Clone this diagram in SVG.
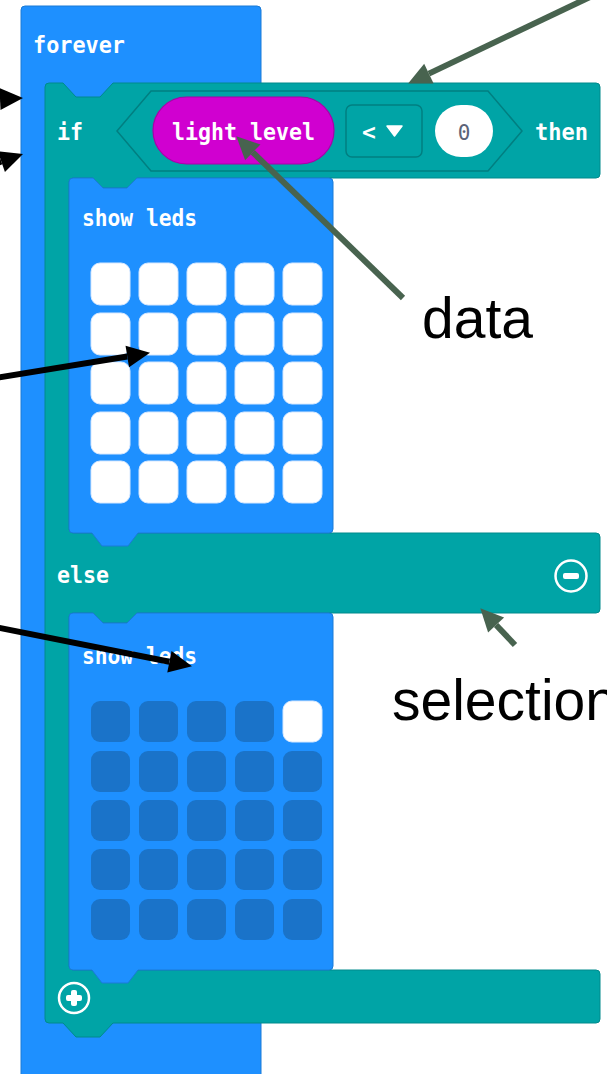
<svg xmlns="http://www.w3.org/2000/svg" width="607" height="1074" viewBox="0 0 607 1074">
<style>
.blue{fill:#1E90FF;stroke:#1A7AD6;stroke-width:1}
.teal{fill:#00A4A6;stroke:#008A8C;stroke-width:1}
.code{font-family:"DejaVu Sans Mono","Liberation Mono",monospace;font-size:23px;font-weight:bold;fill:#ffffff}
.ledon{fill:#ffffff;stroke:#d6e8ff;stroke-width:1}
.ledoff{fill:#1A73C9}
.lbl{font-family:"Liberation Sans",Arial,sans-serif;font-size:57px;fill:#000000}
.ablack{stroke:#000000;stroke-width:6;fill:none}
.agreen{stroke:#48634F;stroke-width:6;fill:none}
</style>
<defs>
<marker id="hb" markerUnits="userSpaceOnUse" markerWidth="26" markerHeight="26" viewBox="0 -13 26 26" refX="0" refY="0" orient="auto" overflow="visible"><path d="M0,-11 L23,0 L0,11 Z" fill="#000000"/></marker>
<marker id="hg" markerUnits="userSpaceOnUse" markerWidth="26" markerHeight="26" viewBox="0 -13 26 26" refX="0" refY="0" orient="auto" overflow="visible"><path d="M0,-11 L23,0 L0,11 Z" fill="#48634F"/></marker>
</defs>
<rect width="607" height="1074" fill="#ffffff"/>

<g id="forever">
<rect class="blue" x="21" y="6" width="240" height="1090" rx="4"/>
<text class="code" x="33" y="53" textLength="92" lengthAdjust="spacingAndGlyphs">forever</text>
</g>

<g id="if-block">
<path class="teal" d="M45,87 Q45,83 49,83 H63 L76,97 H100 L113,83 H596 Q600,83 600,87 V174 Q600,178 596,178 H137 L127,188 H103 L93,178 H73 Q69,178 69,182 V529 Q69,533 73,533 H596 Q600,533 600,537 V609 Q600,613 596,613 H137 L127,623 H103 L93,613 H73 Q69,613 69,617 V966 Q69,970 73,970 H596 Q600,970 600,974 V1019 Q600,1023 596,1023 H113 L100,1037 H76 L63,1023 H49 Q45,1023 45,1019 Z"/>
<text class="code" x="57" y="140" textLength="26" lengthAdjust="spacingAndGlyphs">if</text>
<text class="code" x="535" y="140" textLength="53" lengthAdjust="spacingAndGlyphs">then</text>
<text class="code" x="57" y="583" textLength="52" lengthAdjust="spacingAndGlyphs">else</text>
<g id="remove-else">
<circle cx="571" cy="576" r="15.5" fill="none" stroke="#ffffff" stroke-width="2.5"/>
<rect x="563" y="573" width="16" height="6" rx="2" fill="#ffffff"/>
</g>
<g id="add-else">
<circle cx="74" cy="998" r="15" fill="none" stroke="#ffffff" stroke-width="2.5"/>
<rect x="66" y="995" width="16" height="6" rx="2" fill="#ffffff"/>
<rect x="71" y="990" width="6" height="16" rx="2" fill="#ffffff"/>
</g>
</g>

<g id="condition">
<path d="M117,131 L151,91 H488 L522,131 L488,171 H151 Z" fill="#00A4A6" stroke="#007F81" stroke-width="1.5"/>
</g>

<g id="light-level">
<rect x="153" y="97" width="181" height="67" rx="33.5" fill="#D000D0" stroke="#A800A8" stroke-width="1.2"/>
<text class="code" x="172" y="140" textLength="143" lengthAdjust="spacingAndGlyphs">light level</text>
</g>

<g id="operator">
<rect x="346" y="105" width="76" height="52" rx="6" fill="#00A4A6" stroke="#007F81" stroke-width="1.5"/>
<text class="code" x="362" y="140">&lt;</text>
<path d="M387,126 H402 L394.5,136 Z" fill="#ffffff" stroke="#ffffff" stroke-width="1.5" stroke-linejoin="round"/>
</g>

<g id="number">
<rect x="435" y="105" width="58" height="52" rx="26" fill="#ffffff"/>
<text x="464" y="140" text-anchor="middle" font-family="DejaVu Sans Mono, monospace" font-size="21" fill="#5C6478">0</text>
</g>

<g id="show-leds-1">
<path class="blue" d="M69,182 Q69,178 73,178 H93 L103,188 H127 L137,178 H329 Q333,178 333,182 V529 Q333,533 329,533 H138 L128,546 H102 L92,533 H73 Q69,533 69,529 Z"/>
<text class="code" x="82" y="226" textLength="115" lengthAdjust="spacingAndGlyphs">show leds</text>
<rect class="ledon" x="91" y="263" width="39" height="42" rx="9"/>
<rect class="ledon" x="139" y="263" width="39" height="42" rx="9"/>
<rect class="ledon" x="187" y="263" width="39" height="42" rx="9"/>
<rect class="ledon" x="235" y="263" width="39" height="42" rx="9"/>
<rect class="ledon" x="283" y="263" width="39" height="42" rx="9"/>
<rect class="ledon" x="91" y="313" width="39" height="42" rx="9"/>
<rect class="ledon" x="139" y="313" width="39" height="42" rx="9"/>
<rect class="ledon" x="187" y="313" width="39" height="42" rx="9"/>
<rect class="ledon" x="235" y="313" width="39" height="42" rx="9"/>
<rect class="ledon" x="283" y="313" width="39" height="42" rx="9"/>
<rect class="ledon" x="91" y="362" width="39" height="42" rx="9"/>
<rect class="ledon" x="139" y="362" width="39" height="42" rx="9"/>
<rect class="ledon" x="187" y="362" width="39" height="42" rx="9"/>
<rect class="ledon" x="235" y="362" width="39" height="42" rx="9"/>
<rect class="ledon" x="283" y="362" width="39" height="42" rx="9"/>
<rect class="ledon" x="91" y="412" width="39" height="42" rx="9"/>
<rect class="ledon" x="139" y="412" width="39" height="42" rx="9"/>
<rect class="ledon" x="187" y="412" width="39" height="42" rx="9"/>
<rect class="ledon" x="235" y="412" width="39" height="42" rx="9"/>
<rect class="ledon" x="283" y="412" width="39" height="42" rx="9"/>
<rect class="ledon" x="91" y="461" width="39" height="42" rx="9"/>
<rect class="ledon" x="139" y="461" width="39" height="42" rx="9"/>
<rect class="ledon" x="187" y="461" width="39" height="42" rx="9"/>
<rect class="ledon" x="235" y="461" width="39" height="42" rx="9"/>
<rect class="ledon" x="283" y="461" width="39" height="42" rx="9"/>
</g>

<g id="show-leds-2">
<path class="blue" d="M69,617 Q69,613 73,613 H93 L103,623 H127 L137,613 H329 Q333,613 333,617 V966 Q333,970 329,970 H138 L128,983 H102 L92,970 H73 Q69,970 69,966 Z"/>
<text class="code" x="82" y="664" textLength="115" lengthAdjust="spacingAndGlyphs">show leds</text>
<rect class="ledoff" x="91" y="701" width="39" height="41" rx="9"/>
<rect class="ledoff" x="139" y="701" width="39" height="41" rx="9"/>
<rect class="ledoff" x="187" y="701" width="39" height="41" rx="9"/>
<rect class="ledoff" x="235" y="701" width="39" height="41" rx="9"/>
<rect class="ledon" x="283" y="701" width="39" height="41" rx="9"/>
<rect class="ledoff" x="91" y="751" width="39" height="41" rx="9"/>
<rect class="ledoff" x="139" y="751" width="39" height="41" rx="9"/>
<rect class="ledoff" x="187" y="751" width="39" height="41" rx="9"/>
<rect class="ledoff" x="235" y="751" width="39" height="41" rx="9"/>
<rect class="ledoff" x="283" y="751" width="39" height="41" rx="9"/>
<rect class="ledoff" x="91" y="800" width="39" height="41" rx="9"/>
<rect class="ledoff" x="139" y="800" width="39" height="41" rx="9"/>
<rect class="ledoff" x="187" y="800" width="39" height="41" rx="9"/>
<rect class="ledoff" x="235" y="800" width="39" height="41" rx="9"/>
<rect class="ledoff" x="283" y="800" width="39" height="41" rx="9"/>
<rect class="ledoff" x="91" y="849" width="39" height="41" rx="9"/>
<rect class="ledoff" x="139" y="849" width="39" height="41" rx="9"/>
<rect class="ledoff" x="187" y="849" width="39" height="41" rx="9"/>
<rect class="ledoff" x="235" y="849" width="39" height="41" rx="9"/>
<rect class="ledoff" x="283" y="849" width="39" height="41" rx="9"/>
<rect class="ledoff" x="91" y="899" width="39" height="41" rx="9"/>
<rect class="ledoff" x="139" y="899" width="39" height="41" rx="9"/>
<rect class="ledoff" x="187" y="899" width="39" height="41" rx="9"/>
<rect class="ledoff" x="235" y="899" width="39" height="41" rx="9"/>
<rect class="ledoff" x="283" y="899" width="39" height="41" rx="9"/>
</g>

<g id="labels">
<text class="lbl" x="422" y="338">data</text>
<text class="lbl" x="392" y="720">selection</text>
</g>

<g id="connectors">
<path class="ablack" d="M-40,101 L0,99.1" marker-end="url(#hb)"/>
<path class="ablack" d="M-40,176 L1.3,161.5" marker-end="url(#hb)"/>
<path class="ablack" d="M-5,378 L127.3,356.5" marker-end="url(#hb)"/>
<path class="ablack" d="M-5,627 L169.4,661.7" marker-end="url(#hb)"/>
<path class="agreen" d="M590,-3 L428.9,73.6" marker-end="url(#hg)"/>
<path class="agreen" d="M403,298 L252.8,152.3" marker-end="url(#hg)"/>
<path class="agreen" d="M515,645 L496.1,625" marker-end="url(#hg)"/>
</g>
</svg>
